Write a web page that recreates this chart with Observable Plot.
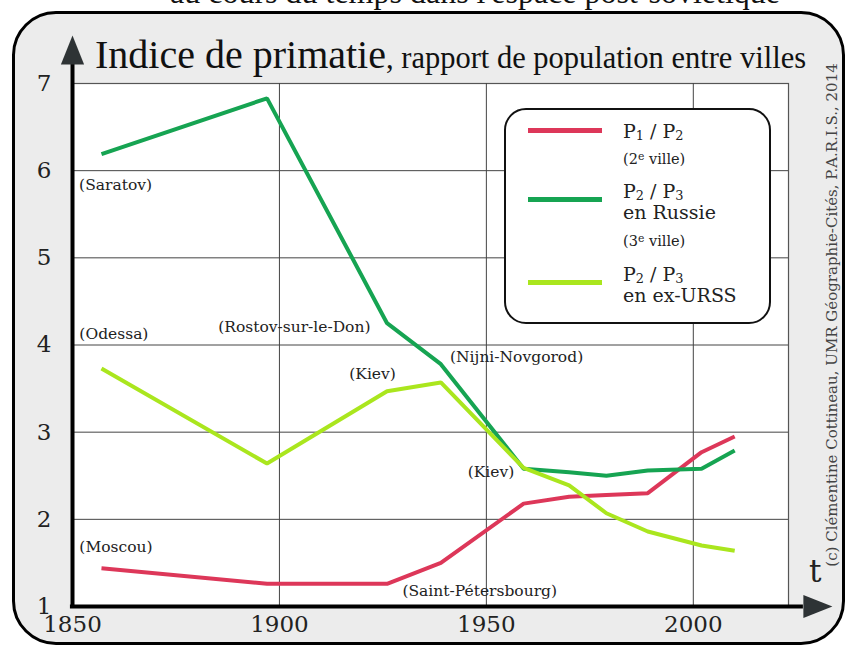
<!DOCTYPE html>
<html>
<head>
<meta charset="utf-8">
<script src="https://cdn.jsdelivr.net/npm/d3@7"></script>
<script src="https://cdn.jsdelivr.net/npm/@observablehq/plot@0.6"></script>
<style>
html, body { margin: 0; padding: 0; background: #fff; }
#wrap { position: relative; width: 849px; height: 645px; overflow: hidden; font-family: "DejaVu Serif", serif; color: #222; }
#frame { position: absolute; left: 12px; top: 11px; width: 833px; height: 634px; box-sizing: border-box; border: 3px solid #000; border-radius: 44px; background: #ececec; }
#toptext { position: absolute; left: 0; top: -24px; width: 950px; text-align: center; font-family: "Liberation Serif", serif; font-size: 32px; line-height: 32px; color: #111; white-space: nowrap; }
#chart { position: absolute; left: 0; top: 0; }
#title { position: absolute; left: 95px; top: 35px; line-height: 40px; white-space: nowrap; font-family: "Liberation Serif", serif; color: #111; }
#title .big { font-size: 40px; }
#title .small { font-size: 30.5px; }
#legend { position: absolute; left: 504px; top: 108px; width: 267px; height: 216px; box-sizing: border-box; border: 2px solid #111; border-radius: 22px; background: #fff; }
#legend .sw { position: absolute; left: 22px; width: 74px; height: 5px; }
#legend .tx { position: absolute; left: 117px; white-space: nowrap; color: #222; }
#legend .main { font-size: 19px; line-height: 21px; }
#legend .note { font-size: 14.5px; line-height: 15px; }
#legend sub { font-size: 0.68em; line-height: 0; vertical-align: -0.15em; }
#legend sup { font-size: 0.75em; line-height: 0; vertical-align: 0.35em; }
#credit { position: absolute; left: 832px; top: 315px; transform: translate(-50%, -50%) rotate(-90deg); white-space: nowrap; font-size: 15px; color: #444; }
#tlabel { position: absolute; left: 809px; top: 556px; font-size: 31px; line-height: 31px; color: #222; }
</style>
</head>
<body>
<div id="wrap">
  <div id="frame"></div>
  <div id="toptext">au cours du temps dans l'espace post-soviétique</div>
  <div id="chart"></div>
  <div id="title"><span class="big">Indice de primatie</span><span class="small">, rapport de population entre villes</span></div>
  <div id="legend"></div>
  <div id="credit">(c) Clémentine Cottineau, UMR Géographie-Cités, P.A.R.I.S., 2014</div>
  <div id="tlabel">t</div>
</div>
<script>
// ---- data ----
const years = [1857, 1897, 1926, 1939, 1959, 1970, 1979, 1989, 2002, 2010];
const p1p2 = [1.44, 1.26, 1.26, 1.50, 2.18, 2.26, 2.28, 2.30, 2.77, 2.95];
const p2p3Russie = [6.19, 6.83, 4.25, 3.78, 2.58, 2.54, 2.50, 2.56, 2.58, 2.79];
const p2p3URSS = [3.73, 2.64, 3.47, 3.57, 2.59, 2.39, 2.07, 1.86, 1.70, 1.64];

const seriesNames = ["P1/P2", "P2/P3 Russie", "P2/P3 ex-URSS"];
const seriesColors = ["#dd3759", "#16a452", "#aae61e"];

const xTicks = [1850, 1900, 1950, 2000];
const yTicks = [1, 2, 3, 4, 5, 6, 7];

const cityLabels = ["(Saratov)", "(Odessa)", "(Moscou)", "(Rostov-sur-le-Don)", "(Kiev)", "(Nijni-Novgorod)", "(Kiev)", "(Saint-Pétersbourg)"];
const cityYears = [1860.4, 1860.0, 1860.5, 1903.6, 1922.5, 1957.3, 1951.1, 1948.4];
const cityValues = [5.83, 4.13, 1.68, 4.21, 3.67, 3.86, 2.54, 1.18];

// ---- build tables ----
const seriesValues = [p1p2, p2p3Russie, p2p3URSS];
const rows = [];
seriesNames.forEach((s, i) => years.forEach((yr, j) => rows.push({series: s, year: yr, value: seriesValues[i][j]})));
const labels = cityLabels.map((t, i) => ({text: t, year: cityYears[i], value: cityValues[i]}));

const xDomain = [1850, 2023];
const yDomain = [1, 7];
const axisEndYear = 2026.6, axisEndValue = 7.22;
const arrowYear = 2030.1, arrowValue = 7.384;

const arrowSymbol = {
  draw(ctx, size) {
    const r = Math.sqrt(size / Math.PI);
    ctx.moveTo(0, -r);
    ctx.lineTo(0.8 * r, r);
    ctx.lineTo(-0.8 * r, r);
    ctx.closePath();
  }
};

const serif = "DejaVu Serif";
const chart = Plot.plot({
  width: 849,
  height: 645,
  marginLeft: 72,
  marginRight: 61,
  marginTop: 83,
  marginBottom: 39,
  x: {domain: xDomain},
  y: {domain: yDomain},
  color: {domain: seriesNames, range: seriesColors},
  style: {background: "transparent", fontFamily: serif, overflow: "visible"},
  marks: [
    Plot.frame({fill: "white", stroke: "#555", strokeWidth: 1.2}),
    Plot.gridX(xTicks.slice(1), {stroke: "#444", strokeOpacity: 1, strokeWidth: 1}),
    Plot.gridY(yTicks.slice(1, -1), {stroke: "#444", strokeOpacity: 1, strokeWidth: 1}),
    Plot.axisX(xTicks, {tickSize: 0, tickPadding: 9, fontSize: 23, fontFamily: serif, fill: "#222", tickFormat: d => String(d), label: null}),
    Plot.axisY(yTicks, {tickSize: 0, tickPadding: 21, fontSize: 23, fontFamily: serif, fill: "#222", tickFormat: d => String(d), label: null}),
    Plot.line(rows, {x: "year", y: "value", z: "series", stroke: "series", strokeWidth: 4, strokeLinejoin: "miter", strokeLinecap: "butt"}),
    Plot.text(labels, {x: "year", y: "value", text: "text", fontSize: 15.5, fontFamily: serif, fill: "#222", textAnchor: "middle"}),
    Plot.ruleX([xDomain[0]], {y1: yDomain[0], y2: axisEndValue, stroke: "#000", strokeWidth: 4}),
    Plot.ruleY([yDomain[0]], {x1: xDomain[0] - 0.5, x2: axisEndYear, stroke: "#000", strokeWidth: 4}),
    Plot.dot([{x: xDomain[0], y: arrowValue}], {x: "x", y: "y", symbol: arrowSymbol, r: 14.5, fill: "#2e3335", stroke: "none"}),
    Plot.dot([{x: arrowYear, y: yDomain[0]}], {x: "x", y: "y", symbol: arrowSymbol, r: 14.5, rotate: 90, fill: "#2e3335", stroke: "none"})
  ]
});
document.getElementById("chart").appendChild(chart);

// ---- legend ----
const legendEntries = [
  {color: seriesColors[0], main: "P<sub>1</sub> / P<sub>2</sub>", note: "(2<sup>e</sup> ville)"},
  {color: seriesColors[1], main: "P<sub>2</sub> / P<sub>3</sub><br>en Russie", note: "(3<sup>e</sup> ville)"},
  {color: seriesColors[2], main: "P<sub>2</sub> / P<sub>3</sub><br>en ex-URSS", note: null}
];
const swatchTops = [18, 87, 170];
const mainTops = [11, 71, 154];
const noteTops = [42, 124, null];
const legend = document.getElementById("legend");
legendEntries.forEach((e, i) => {
  const sw = document.createElement("div");
  sw.className = "sw";
  sw.style.top = swatchTops[i] + "px";
  sw.style.background = e.color;
  legend.appendChild(sw);
  const m = document.createElement("div");
  m.className = "tx main";
  m.style.top = mainTops[i] + "px";
  m.innerHTML = e.main;
  legend.appendChild(m);
  if (e.note) {
    const n = document.createElement("div");
    n.className = "tx note";
    n.style.top = noteTops[i] + "px";
    n.innerHTML = e.note;
    legend.appendChild(n);
  }
});
</script>
</body>
</html>
